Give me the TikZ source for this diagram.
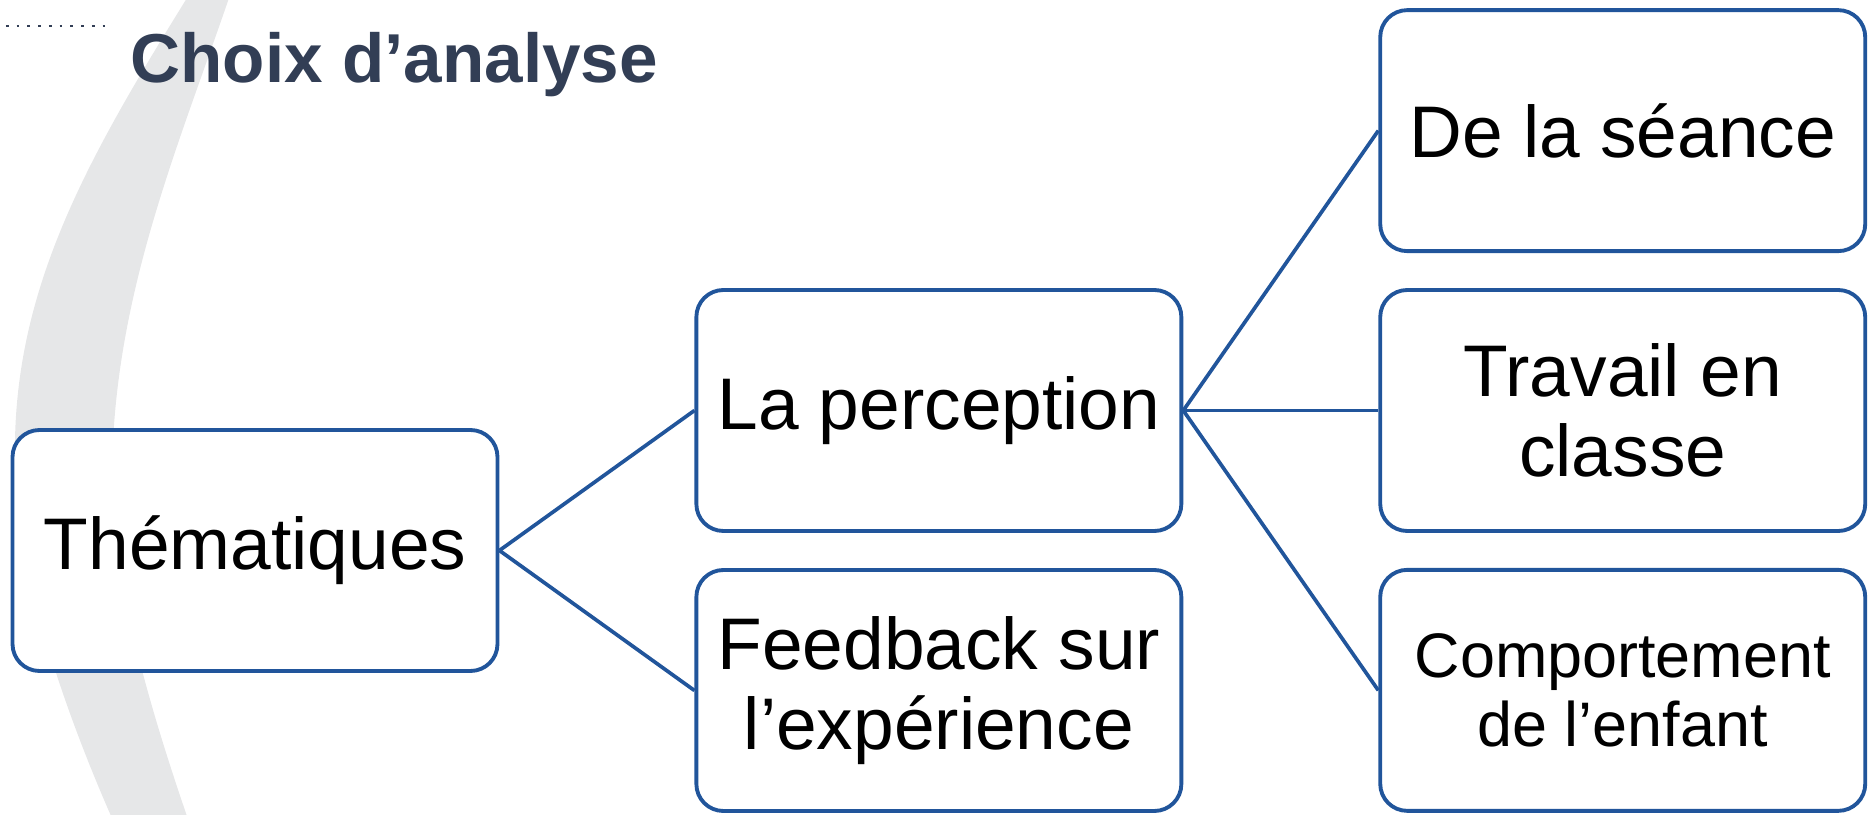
\documentclass[tikz,border=0pt]{standalone}
\usepackage{fontspec}
\setmainfont{Liberation Sans}
\usepackage{xcolor}
\usetikzlibrary{positioning}
\definecolor{boxblue}{HTML}{21559B}
\definecolor{titlenavy}{HTML}{323E55}
\definecolor{arcgray}{HTML}{E6E7E8}

\begin{document}
\begin{tikzpicture}[
    box/.style={draw=boxblue,line width=1.1pt,rounded corners=0.27cm,fill=white,align=center,minimum width=4.85cm,minimum height=2.41cm,inner sep=0pt,font=\fontsize{20.8}{22.8}\selectfont},
    link/.style={draw=boxblue,line width=1.05pt}
]
    \useasboundingbox (0,0) rectangle (18.70,-8.15);
    % grey bracket behind the title and the first box
    \begin{scope}
        \clip (0,0) rectangle (18.70,-8.15);
        \fill[arcgray] (1.87,0.02) .. controls (0.88,-1.58) and (0.12,-2.9) .. (0.15,-4.6)
            .. controls (0.15,-5.8) and (0.75,-7.35) .. (1.15,-8.25) -- (1.90,-8.25)
            .. controls (1.59,-7.35) and (1.12,-5.9) .. (1.12,-4.8)
            .. controls (1.12,-3.0) and (1.77,-1.5) .. (2.29,0.02) -- cycle;
    \end{scope}
    \draw[titlenavy,line width=0.027cm,dash pattern=on 0.027cm off 0.0805cm] (0.06,-0.26) -- (1.06,-0.26);
    \node[anchor=base west,inner sep=0pt,text=titlenavy,font=\fontsize{19.7}{24}\selectfont\bfseries] (title) at (1.30,-0.83) {Choix d’analyse};

    \node[box] (them) at (2.55,-5.505) {Thématiques};
    \node[box,right=1.95cm of them,yshift=1.40cm] (perc) {La perception};
    \node[box,right=1.95cm of them,yshift=-1.40cm] (feed) {Feedback sur\\l’expérience};
    \node[box,right=1.95cm of perc] (trav) {Travail en\\classe};
    \node[box,above=0.35cm of trav] (seance) {De la séance};
    \node[box,below=0.35cm of trav,font=\fontsize{17.9}{19.4}\selectfont] (comp) {Comportement\\de l’enfant};

    \draw[link] (them.east) -- (perc.west);
    \draw[link] (them.east) -- (feed.west);
    \foreach \t in {seance,trav,comp}
        \draw[link] (perc.east) -- (\t.west);
\end{tikzpicture}
\end{document}
